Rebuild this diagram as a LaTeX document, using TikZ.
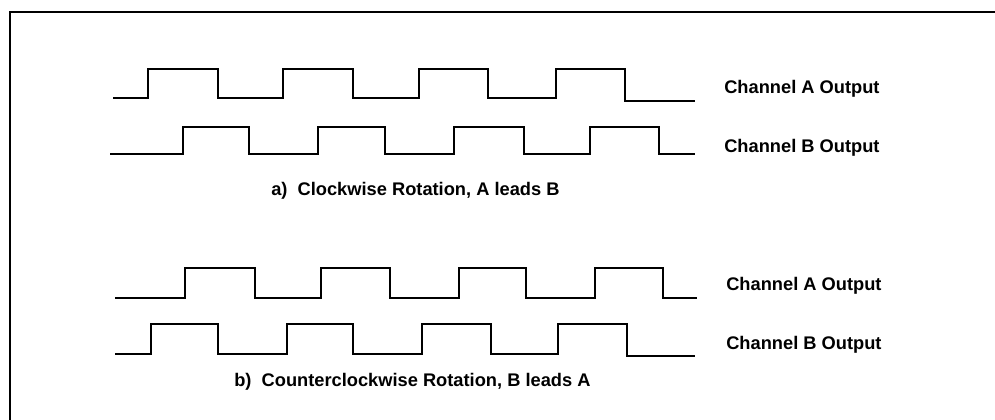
\documentclass[tikz,border=0pt]{standalone}
\usepackage{fontspec}
\setmainfont{Liberation Sans}
\begin{document}
\begin{tikzpicture}[x=0.75pt,y=-0.75pt,
  wave/.style={line width=1.5pt,black},
  frameline/.style={line width=1.9pt,black},
  lbl/.style={anchor=base west,inner sep=0pt,font=\fontsize{13.7}{16}\selectfont\bfseries}]
\useasboundingbox (0,0) rectangle (995,419);
% frame (top and left edges)
\draw[frameline] (10,425) -- (10,12) -- (1000,12);
% a) Channel A
\draw[wave] (113,98) -- (148,98) -- (148,69) -- (218,69) -- (218,98) -- (283,98) -- (283,69) -- (353,69) -- (353,98) -- (419,98) -- (419,69) -- (488,69) -- (488,98) -- (556,98) -- (556,69) -- (625,69) -- (625,101) -- (695,101);
% a) Channel B
\draw[wave] (110,154) -- (183,154) -- (183,127) -- (249,127) -- (249,154) -- (318,154) -- (318,127) -- (385,127) -- (385,154) -- (454,154) -- (454,127) -- (524,127) -- (524,154) -- (590,154) -- (590,127) -- (659,127) -- (659,154) -- (695,154);
% b) Channel A
\draw[wave] (115,298) -- (185,298) -- (185,268) -- (255,268) -- (255,298) -- (321,298) -- (321,268) -- (390,268) -- (390,298) -- (459,298) -- (459,268) -- (526,268) -- (526,298) -- (595,298) -- (595,268) -- (663,268) -- (663,298) -- (697,298);
% b) Channel B
\draw[wave] (115,354) -- (151,354) -- (151,324) -- (218,324) -- (218,354) -- (287,354) -- (287,324) -- (353,324) -- (353,354) -- (422,354) -- (422,324) -- (491,324) -- (491,354) -- (558,354) -- (558,324) -- (627,324) -- (627,356) -- (695,356);
% labels
\node[lbl] (aA) at (724,93.3) {Channel A Output};
\node[lbl] (aB) at (724,152.7) {Channel B Output};
\node[lbl] (capA) at (271,195) {a)\ \ Clockwise Rotation, A leads B};
\node[lbl] (bA) at (726,290) {Channel A Output};
\node[lbl] (bB) at (726,349) {Channel B Output};
\node[lbl] (capB) at (234,386.7) {b)\ \ Counterclockwise Rotation, B leads A};
\end{tikzpicture}
\end{document}
